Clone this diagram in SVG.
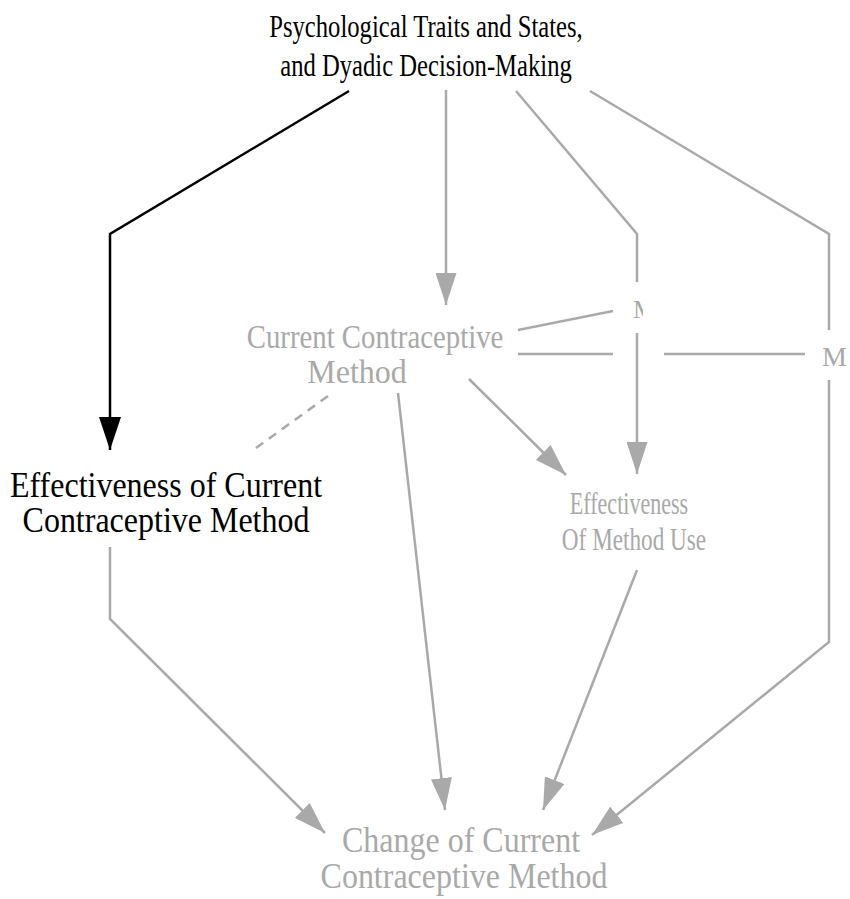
<svg xmlns="http://www.w3.org/2000/svg" width="850" height="899" viewBox="0 0 850 899">
<style>
.t{font-family:"Liberation Serif","Times New Roman",serif;font-size:32px;text-anchor:middle}
.k{fill:#000}
.g{fill:#a9a9a9}
.ln{fill:none;stroke:#a9a9a9;stroke-width:2.5}
.bk{fill:none;stroke:#000;stroke-width:2.5}
.dash{stroke-dasharray:9,7}
</style>
<defs>
<marker id="ag" markerUnits="userSpaceOnUse" viewBox="0 0 32 21" refX="32" refY="10.5" markerWidth="32" markerHeight="21" orient="auto"><path d="M0,0 L32,10.5 L0,21 z" fill="#a9a9a9"/></marker>
<marker id="ab" markerUnits="userSpaceOnUse" viewBox="0 0 33 22" refX="33" refY="11" markerWidth="33" markerHeight="22" orient="auto"><path d="M0,0 L33,11 L0,22 z" fill="#000"/></marker>
<clipPath id="cm"><rect x="620" y="290" width="23" height="40"/></clipPath>
</defs>
<g id="connectors">
<path class="bk" d="M349,91 L110,234 L110,450" marker-end="url(#ab)"/>
<path class="ln" d="M446,90 L446,305" marker-end="url(#ag)"/>
<path class="ln" d="M516,91 L637,234 L637,282"/>
<path class="ln" d="M637,333 L637,474" marker-end="url(#ag)"/>
<path class="ln" d="M590,91 L829,234 L829,330"/>
<path class="ln" d="M829,380 L829,642 L592,835" marker-end="url(#ag)"/>
<path class="ln" d="M469,379 L566,475" marker-end="url(#ag)"/>
<path class="ln" d="M398,393 L445,810" marker-end="url(#ag)"/>
<path class="ln" d="M637,570 L543,810" marker-end="url(#ag)"/>
<path class="ln" d="M110,547 L110,619 L325,833" marker-end="url(#ag)"/>
<path class="ln dash" d="M328,396 L256,448"/>
<path class="ln" d="M518,330 L613,311"/>
<path class="ln" d="M518,354 L613,354"/>
<path class="ln" d="M664,354 L805,354"/>
<text class="t g" style="font-size:26px;text-anchor:start" x="633" y="318" clip-path="url(#cm)">M</text>
<text class="t g" style="font-size:28px;text-anchor:start" x="822" y="366">M</text>
</g>
<g id="node-psych">
<text class="t k" style="font-size:29px" transform="translate(426,37) scale(0.85,1.1)">Psychological Traits and States,</text>
<text class="t k" style="font-size:29px" transform="translate(426,76) scale(0.85,1.1)">and Dyadic Decision-Making</text>
</g>
<g id="node-current">
<text class="t g" transform="translate(375,348) scale(0.9,1.05)">Current Contraceptive</text>
<text class="t g" transform="translate(357,383) scale(1,1.05)">Method</text>
</g>
<g id="node-effcurrent">
<text class="t k" transform="translate(166,497) scale(1,1.1)">Effectiveness of Current</text>
<text class="t k" transform="translate(166,532) scale(1,1.1)">Contraceptive Method</text>
</g>
<g id="node-effuse">
<text class="t g" style="font-size:29px" transform="translate(629,514) scale(0.76,1.08)">Effectiveness</text>
<text class="t g" style="font-size:29px" transform="translate(634,550) scale(0.8,1.08)">Of Method Use</text>
</g>
<g id="node-change">
<text class="t g" transform="translate(461,852) scale(1,1.1)">Change of Current</text>
<text class="t g" transform="translate(464,888) scale(1,1.1)">Contraceptive Method</text>
</g>
</svg>
